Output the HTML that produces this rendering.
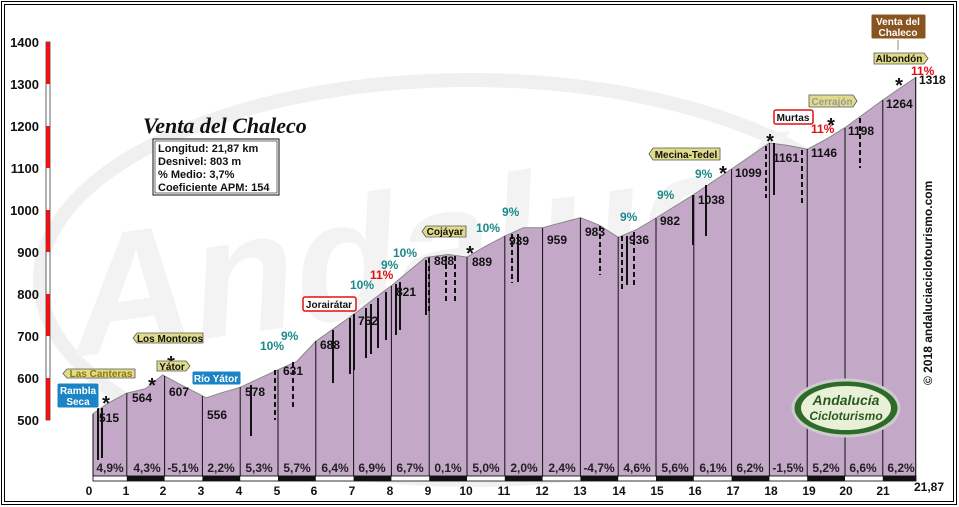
<!DOCTYPE html>
<html><head><meta charset="utf-8"><style>
html,body{margin:0;padding:0;background:#fff;}
svg{display:block;}
text{font-family:"Liberation Sans",sans-serif;font-weight:bold;}
</style></head><body>
<svg width="959" height="507" viewBox="0 0 959 507" xmlns="http://www.w3.org/2000/svg">
<rect x="0" y="0" width="959" height="507" fill="#fff"/>
<rect x="1.5" y="1.5" width="955" height="503" fill="none" stroke="#000" stroke-width="1"/>
<rect x="4.5" y="4.5" width="949" height="497" fill="none" stroke="#000" stroke-width="1"/>
<!-- watermark -->
<g fill="none" stroke="#f0f0f0" stroke-width="14">
<ellipse cx="470" cy="280" rx="430" ry="200"/>
</g>
<text x="480" y="300" font-size="170" fill="#f3f3f3" text-anchor="middle" font-style="italic" transform="rotate(-8 480 300)">Andalucía</text>
<!-- y axis -->
<g font-size="13" fill="#111" text-anchor="end">
<text x="39" y="47">1400</text><text x="39" y="89">1300</text><text x="39" y="131">1200</text>
<text x="39" y="173">1100</text><text x="39" y="215">1000</text><text x="39" y="257">900</text>
<text x="39" y="299">800</text><text x="39" y="341">700</text><text x="39" y="383">600</text><text x="39" y="425">500</text>
</g>
<rect x="46" y="42" width="4" height="378" fill="#fff" stroke="#000" stroke-width="0.6"/>
<g fill="#ee1111">
<rect x="46" y="42" width="4" height="42"/><rect x="46" y="126" width="4" height="42"/>
<rect x="46" y="210" width="4" height="42"/><rect x="46" y="294" width="4" height="42"/><rect x="46" y="378" width="4" height="42"/>
</g>
<!-- profile -->
<polygon fill="#c4a8c8" stroke="#888" stroke-width="1" points="93,476 93,413.7 107.9,403.2 126.8,393.2 145.7,388.6 162.7,375 179.7,384.2 206.2,397.8 221.3,392.8 240.2,387.3 278,369.7 296.9,361.4 315.8,341.3 353.6,314.5 391.4,285.6 425.4,257.5 448.1,254.5 467,257.1 485.9,246.1 504.8,236.1 523.7,227.7 542.6,227.7 580.4,217.6 599.3,225.2 618.2,237.3 637.1,229.3 656,218 693.8,194.6 731.6,169 750.5,156 769.4,143 788.3,145.5 807.2,149.3 826.1,139.3 845,127.6 882.8,100 915.7,77.4 915.7,476"/>
<g stroke="#111" stroke-width="1">
<line x1="126.8" y1="393" x2="126.8" y2="476"/><line x1="164.6" y1="376" x2="164.6" y2="476"/>
<line x1="202.4" y1="396" x2="202.4" y2="476"/><line x1="240.2" y1="387" x2="240.2" y2="476"/>
<line x1="278" y1="370" x2="278" y2="476"/><line x1="315.8" y1="341" x2="315.8" y2="476"/>
<line x1="353.6" y1="314" x2="353.6" y2="476"/><line x1="391.4" y1="286" x2="391.4" y2="476"/>
<line x1="429.2" y1="257" x2="429.2" y2="476"/><line x1="467" y1="257" x2="467" y2="476"/>
<line x1="504.8" y1="236" x2="504.8" y2="476"/><line x1="542.6" y1="228" x2="542.6" y2="476"/>
<line x1="580.4" y1="218" x2="580.4" y2="476"/><line x1="618.2" y1="237" x2="618.2" y2="476"/>
<line x1="656" y1="218" x2="656" y2="476"/><line x1="693.8" y1="195" x2="693.8" y2="476"/>
<line x1="731.6" y1="169" x2="731.6" y2="476"/><line x1="769.4" y1="143" x2="769.4" y2="476"/>
<line x1="807.2" y1="149" x2="807.2" y2="476"/><line x1="845" y1="128" x2="845" y2="476"/>
<line x1="882.8" y1="100" x2="882.8" y2="476"/><line x1="93" y1="414" x2="93" y2="476"/><line x1="915.7" y1="77" x2="915.7" y2="476"/>
</g>
<g stroke="#111" stroke-width="2">
<line x1="98" y1="408" x2="98" y2="460"/><line x1="102" y1="408" x2="102" y2="458"/>
<line x1="251" y1="385" x2="251" y2="436"/><line x1="333" y1="330" x2="333" y2="383"/>
<line x1="350" y1="318" x2="350" y2="374"/><line x1="354" y1="314" x2="354" y2="370"/>
<line x1="366" y1="308" x2="366" y2="358"/><line x1="371" y1="304" x2="371" y2="354"/>
<line x1="378" y1="298" x2="378" y2="348"/><line x1="386" y1="292" x2="386" y2="340"/>
<line x1="396" y1="284" x2="396" y2="335"/><line x1="400" y1="282" x2="400" y2="330"/>
<line x1="426" y1="260" x2="426" y2="315"/><line x1="518" y1="234" x2="518" y2="282"/>
<line x1="693" y1="195" x2="693" y2="245"/><line x1="706" y1="185" x2="706" y2="236"/>
<line x1="774" y1="143" x2="774" y2="195"/><line x1="627" y1="236" x2="627" y2="285"/>
</g>
<g stroke="#111" stroke-width="2" stroke-dasharray="5,3">
<line x1="275" y1="370" x2="275" y2="420"/><line x1="293" y1="362" x2="293" y2="410"/>
<line x1="429" y1="258" x2="429" y2="312"/><line x1="446" y1="256" x2="446" y2="303"/>
<line x1="455" y1="256" x2="455" y2="302"/><line x1="512" y1="234" x2="512" y2="283"/>
<line x1="600" y1="226" x2="600" y2="275"/><line x1="622" y1="236" x2="622" y2="290"/>
<line x1="634" y1="232" x2="634" y2="285"/><line x1="766" y1="146" x2="766" y2="198"/>
<line x1="802" y1="150" x2="802" y2="205"/><line x1="860" y1="118" x2="860" y2="168"/>
</g>
<rect x="93" y="476" width="823" height="5" fill="#fff" stroke="#000" stroke-width="0.8"/>
<g fill="#111">
<rect x="126.8" y="476" width="37.8" height="5"/><rect x="202.4" y="476" width="37.8" height="5"/>
<rect x="278" y="476" width="37.8" height="5"/><rect x="353.6" y="476" width="37.8" height="5"/>
<rect x="429.2" y="476" width="37.8" height="5"/><rect x="504.8" y="476" width="37.8" height="5"/>
<rect x="580.4" y="476" width="37.8" height="5"/><rect x="656" y="476" width="37.8" height="5"/>
<rect x="731.6" y="476" width="37.8" height="5"/><rect x="807.2" y="476" width="37.8" height="5"/>
<rect x="882.8" y="476" width="33" height="5"/>
</g>
<g font-size="12" fill="#111" text-anchor="middle">
<text x="89" y="495">0</text><text x="126" y="495">1</text><text x="163" y="495">2</text><text x="201" y="495">3</text>
<text x="239" y="495">4</text><text x="277" y="495">5</text><text x="314" y="495">6</text><text x="352" y="495">7</text>
<text x="390" y="495">8</text><text x="428" y="495">9</text><text x="466" y="495">10</text><text x="504" y="495">11</text>
<text x="542" y="495">12</text><text x="580" y="495">13</text><text x="619" y="495">14</text><text x="657" y="495">15</text>
<text x="695" y="495">16</text><text x="733" y="495">17</text><text x="771" y="495">18</text><text x="809" y="495">19</text>
<text x="846" y="495">20</text><text x="883" y="495">21</text><text x="929" y="491">21,87</text>
</g>
<g font-size="12" fill="#222" text-anchor="middle">
<text x="110" y="472">4,9%</text><text x="147" y="472">4,3%</text><text x="183" y="472">-5,1%</text><text x="221" y="472">2,2%</text>
<text x="259" y="472">5,3%</text><text x="297" y="472">5,7%</text><text x="335" y="472">6,4%</text><text x="372" y="472">6,9%</text>
<text x="410" y="472">6,7%</text><text x="448" y="472">0,1%</text><text x="486" y="472">5,0%</text><text x="524" y="472">2,0%</text>
<text x="562" y="472">2,4%</text><text x="599" y="472">-4,7%</text><text x="637" y="472">4,6%</text><text x="675" y="472">5,6%</text>
<text x="713" y="472">6,1%</text><text x="750" y="472">6,2%</text><text x="788" y="472">-1,5%</text><text x="826" y="472">5,2%</text>
<text x="863" y="472">6,6%</text><text x="901" y="472">6,2%</text>
</g>
<g font-size="12" fill="#111">
<text x="99" y="422">515</text><text x="132" y="402">564</text><text x="169" y="396">607</text><text x="207" y="419">556</text>
<text x="245" y="396">578</text><text x="283" y="375">631</text><text x="320" y="349">688</text><text x="358" y="325">752</text>
<text x="396" y="296">821</text><text x="434" y="265">888</text><text x="472" y="266">889</text><text x="509" y="245">939</text>
<text x="547" y="244">959</text><text x="585" y="236">983</text><text x="629" y="244">936</text><text x="660" y="225">982</text>
<text x="698" y="204">1038</text><text x="735" y="177">1099</text><text x="773" y="162">1161</text><text x="811" y="157">1146</text>
<text x="848" y="135">1198</text><text x="886" y="108">1264</text><text x="919" y="84">1318</text>
</g>
<g font-size="12" fill="#1a8a8a">
<text x="260" y="350">10%</text><text x="281" y="340">9%</text><text x="350" y="289">10%</text><text x="381" y="269">9%</text>
<text x="393" y="257">10%</text><text x="476" y="232">10%</text><text x="502" y="216">9%</text><text x="620" y="221">9%</text>
<text x="657" y="199">9%</text><text x="695" y="178">9%</text>
</g>
<g font-size="12" fill="#e01010">
<text x="370" y="279">11%</text><text x="811" y="133">11%</text><text x="911" y="75">11%</text>
</g>
<g font-size="20" fill="#111" text-anchor="middle">
<text x="106" y="410">*</text><text x="152" y="392">*</text><text x="171" y="370">*</text><text x="470" y="260">*</text>
<text x="723" y="180">*</text><text x="770" y="148">*</text><text x="831" y="132">*</text><text x="899" y="92">*</text>
</g>
<g font-size="10">
<rect x="57" y="383" width="42" height="25" rx="2" fill="#1a84c4" stroke="#fff" stroke-width="1"/>
<text x="78" y="394" fill="#fff" text-anchor="middle">Rambla</text><text x="78" y="405" fill="#fff" text-anchor="middle">Seca</text>
<polygon points="67,369 135,369 135,378 67,378 63,373.5" fill="#e0dc8a" stroke="#555" stroke-width="0.8"/>
<text x="101" y="377" fill="#8a7a10" text-anchor="middle">Las Canteras</text>
<polygon points="137,333 203,333 203,343 137,343 133,338" fill="#e0dc8a" stroke="#555" stroke-width="0.8"/>
<text x="170" y="342" fill="#111" text-anchor="middle">Los Montoros</text>
<polygon points="157,361 186,361 190,366 186,371 157,371" fill="#e0dc8a" stroke="#555" stroke-width="0.8"/>
<text x="172" y="370" fill="#111" text-anchor="middle">Yátor</text>
<rect x="192" y="371" width="49" height="14" rx="2" fill="#1a84c4" stroke="#fff"/>
<text x="216" y="382" fill="#fff" text-anchor="middle">Río Yátor</text>
<rect x="303" y="297" width="53" height="14" rx="2" fill="#fff" stroke="#e01010" stroke-width="1.5"/>
<text x="329" y="308" fill="#111" text-anchor="middle">Jorairátar</text>
<polygon points="426,226 466,226 466,237 426,237 422,231.5" fill="#e0dc8a" stroke="#555" stroke-width="0.8"/>
<text x="445" y="235" fill="#111" text-anchor="middle">Cojáyar</text>
<polygon points="653,148 720,148 720,160 653,160 649,154" fill="#e0dc8a" stroke="#555" stroke-width="0.8"/>
<text x="686" y="158" fill="#111" text-anchor="middle">Mecina-Tedel</text>
<rect x="774" y="110" width="39" height="14" rx="2" fill="#fff" stroke="#e01010" stroke-width="1.5"/>
<text x="793" y="121" fill="#111" text-anchor="middle">Murtas</text>
<polygon points="809,95 853,95 857,101 853,107 809,107" fill="#e0dc8a" stroke="#555" stroke-width="0.8"/>
<text x="832" y="105" fill="#999" text-anchor="middle">Cerrajón</text>
<polygon points="874,53 924,53 928,58.5 924,64 874,64" fill="#e0dc8a" stroke="#555" stroke-width="0.8"/>
<text x="899" y="62" fill="#111" text-anchor="middle">Albondón</text>
<rect x="871" y="14" width="55" height="25" rx="2" fill="#8a5420" stroke="#fff"/>
<text x="898" y="25" fill="#fff" text-anchor="middle">Venta del</text><text x="898" y="36" fill="#fff" text-anchor="middle">Chaleco</text>
<line x1="898" y1="40" x2="898" y2="50" stroke="#888"/>
</g>
<text x="143" y="133" font-size="22" font-style="italic" font-weight="normal" fill="#111" style="font-family:'Liberation Serif',serif">Venta del Chaleco</text>
<rect x="153" y="139" width="126" height="56" fill="#fff" stroke="#111" stroke-width="1"/>
<rect x="155" y="141" width="122" height="52" fill="none" stroke="#111" stroke-width="0.6"/>
<g font-size="11" fill="#111">
<text x="158" y="152">Longitud: 21,87 km</text><text x="158" y="165">Desnivel: 803 m</text>
<text x="158" y="178">% Medio: 3,7%</text><text x="158" y="191">Coeficiente APM: 154</text>
</g>
<text x="932" y="385" font-size="12" font-weight="normal" fill="#111" transform="rotate(-90 932 385)">© 2018 andaluciaciclotourismo.com</text>
<ellipse cx="846" cy="408" rx="53" ry="28" fill="#2e6a2a" stroke="#ccc" stroke-width="3"/>
<ellipse cx="846" cy="408" rx="45" ry="22" fill="#e8f0d8"/>
<text x="846" y="405" font-size="14" font-style="italic" fill="#2a5a20" text-anchor="middle">Andalucía</text>
<text x="846" y="420" font-size="12" font-style="italic" fill="#2a5a20" text-anchor="middle">Cicloturismo</text>
</svg>
</body></html>
